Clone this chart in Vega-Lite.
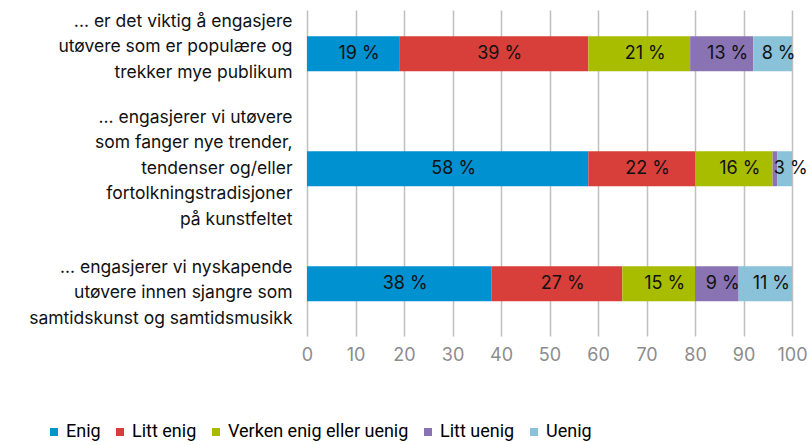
{
  "$schema": "https://vega.github.io/schema/vega-lite/v6.json",
  "autosize": "none",
  "width": 485,
  "height": 326,
  "padding": {"left": 307, "top": 10, "right": 20, "bottom": 109},
  "config": {"view": {"stroke": null}, "font": "Inter"},
  "data": {"values": [
    {"q": "... er det viktig å engasjere|utøvere som er populære og|trekker mye publikum", "k": "Enig", "o": 1, "v": 19},
    {"q": "... er det viktig å engasjere|utøvere som er populære og|trekker mye publikum", "k": "Litt enig", "o": 2, "v": 39},
    {"q": "... er det viktig å engasjere|utøvere som er populære og|trekker mye publikum", "k": "Verken enig eller uenig", "o": 3, "v": 21},
    {"q": "... er det viktig å engasjere|utøvere som er populære og|trekker mye publikum", "k": "Litt uenig", "o": 4, "v": 13},
    {"q": "... er det viktig å engasjere|utøvere som er populære og|trekker mye publikum", "k": "Uenig", "o": 5, "v": 8},
    {"q": "... engasjerer vi utøvere|som fanger nye trender,|tendenser og/eller|fortolkningstradisjoner|på kunstfeltet", "k": "Enig", "o": 1, "v": 58},
    {"q": "... engasjerer vi utøvere|som fanger nye trender,|tendenser og/eller|fortolkningstradisjoner|på kunstfeltet", "k": "Litt enig", "o": 2, "v": 22},
    {"q": "... engasjerer vi utøvere|som fanger nye trender,|tendenser og/eller|fortolkningstradisjoner|på kunstfeltet", "k": "Verken enig eller uenig", "o": 3, "v": 16},
    {"q": "... engasjerer vi utøvere|som fanger nye trender,|tendenser og/eller|fortolkningstradisjoner|på kunstfeltet", "k": "Litt uenig", "o": 4, "v": 1},
    {"q": "... engasjerer vi utøvere|som fanger nye trender,|tendenser og/eller|fortolkningstradisjoner|på kunstfeltet", "k": "Uenig", "o": 5, "v": 3},
    {"q": "... engasjerer vi nyskapende|utøvere innen sjangre som|samtidskunst og samtidsmusikk", "k": "Enig", "o": 1, "v": 38},
    {"q": "... engasjerer vi nyskapende|utøvere innen sjangre som|samtidskunst og samtidsmusikk", "k": "Litt enig", "o": 2, "v": 27},
    {"q": "... engasjerer vi nyskapende|utøvere innen sjangre som|samtidskunst og samtidsmusikk", "k": "Verken enig eller uenig", "o": 3, "v": 15},
    {"q": "... engasjerer vi nyskapende|utøvere innen sjangre som|samtidskunst og samtidsmusikk", "k": "Litt uenig", "o": 4, "v": 9},
    {"q": "... engasjerer vi nyskapende|utøvere innen sjangre som|samtidskunst og samtidsmusikk", "k": "Uenig", "o": 5, "v": 11}
  ]},
  "transform": [
    {"stack": "v", "groupby": ["q"], "sort": [{"field": "o", "order": "ascending"}], "as": ["v0", "v1"]},
    {"calculate": "(datum.v0 + datum.v1) / 2", "as": "mid"},
    {"calculate": "datum.v + ' %'", "as": "lbl"}
  ],
  "encoding": {
    "y": {
      "field": "q", "type": "nominal", "sort": null, "title": null,
      "scale": {"paddingInner": 0.696, "paddingOuter": 0.265, "align": 0.43},
      "axis": {
        "labelExpr": "split(datum.label, '|')",
        "labelFont": "Inter", "labelFontSize": 17.5, "labelColor": "#111111",
        "labelLineHeight": 25.5, "labelPadding": 15, "labelLimit": 320,
        "labelBaseline": "middle",
        "labelOffset": {"condition": [
          {"test": "indexof(datum.value, 'populære') >= 0", "value": -32},
          {"test": "indexof(datum.value, 'nyskapende') >= 0", "value": -16}
        ], "value": -51},
        "domain": false, "ticks": false, "grid": false
      }
    }
  },
  "layer": [
    {
      "mark": {"type": "bar"},
      "encoding": {
        "x": {
          "field": "v0", "type": "quantitative", "title": null,
          "scale": {"domain": [0, 100], "nice": false},
          "axis": {
            "values": [0, 10, 20, 30, 40, 50, 60, 70, 80, 90, 100],
            "grid": true, "gridColor": "#bfbfbf", "gridWidth": 1.5,
            "domain": false, "ticks": false, "labelFlush": false,
            "labelFont": "Inter", "labelFontSize": 18, "labelColor": "#8c8c8c",
            "labelPadding": 10
          }
        },
        "x2": {"field": "v1"},
        "color": {
          "field": "k", "type": "nominal",
          "scale": {
            "domain": ["Enig", "Litt enig", "Verken enig eller uenig", "Litt uenig", "Uenig"],
            "range": ["#0091d0", "#d93f3a", "#a8bd00", "#8a73b3", "#8ac2d9"]
          },
          "legend": {
            "title": null, "orient": "none", "direction": "horizontal",
            "legendX": -262, "legendY": 413,
            "symbolType": "square", "symbolSize": 64, "symbolStrokeWidth": 0,
            "symbolOpacity": 1,
            "labelFont": "Roboto", "labelFontSize": 18, "labelColor": "#000000",
            "labelOffset": 3, "columnPadding": 10, "labelLimit": 300
          }
        }
      }
    },
    {
      "transform": [{"filter": "datum.v > 1"}],
      "mark": {"type": "text", "font": "Inter", "fontSize": 18, "color": "#111111", "dx": 6, "baseline": "middle"},
      "encoding": {
        "x": {"field": "mid", "type": "quantitative"},
        "text": {"field": "lbl", "type": "nominal"}
      }
    }
  ]
}
